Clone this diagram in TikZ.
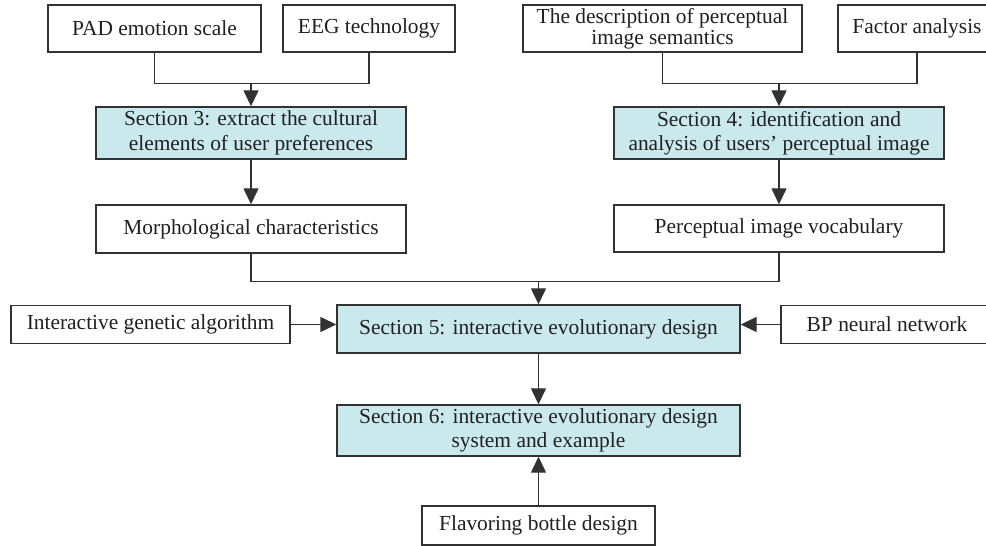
\documentclass[tikz,border=0pt]{standalone}
\usepackage{fontspec}
\setmainfont{Liberation Serif}
\usetikzlibrary{arrows.meta,calc}
\definecolor{secfill}{RGB}{201,233,236}
\definecolor{edge}{RGB}{50,50,50}
\definecolor{txt}{RGB}{35,31,32}
\begin{document}
\begin{tikzpicture}[x=1bp,y=-1bp,
  every node/.style={font=\fontsize{21.5}{24.5}\selectfont, text=txt},
  box/.style={draw=edge, line width=1.4bp, fill=white, inner sep=0pt, align=center},
  secbox/.style={box, fill=secfill},
  conn/.style={draw=edge, line width=1.4bp},
  arr/.style={conn, -{Triangle[length=16bp,width=15bp]}}]
\useasboundingbox (0,0) rectangle (986,546);
% top row
\node[box, minimum width=213bp, minimum height=47bp] (pad) at (154.5,28.5) {PAD emotion scale};
\node[box, minimum width=172bp, minimum height=47bp] (eeg) at (369,28.5) {EEG technology};
\node[box, minimum width=279bp, minimum height=47bp] (desc) at (662.5,28.5) {The description of perceptual\\[-3.5bp]image semantics};
\node[box, minimum width=158bp, minimum height=47bp] (fac) at (917,28.5) {Factor analysis};
% sections 3 and 4
\node[secbox, minimum width=310bp, minimum height=52bp] (s3) at (251,133) {Section 3: extract the cultural\\elements of user preferences};
\node[secbox, minimum width=330bp, minimum height=52bp] (s4) at (779,133) {Section 4: identification and\\analysis of users' perceptual image};
% results
\node[box, minimum width=310bp, minimum height=48bp] (morph) at (251,229) {Morphological characteristics};
\node[box, minimum width=330bp, minimum height=47bp] (voc) at (779,228.5) {Perceptual image vocabulary};
% section 5 row
\node[secbox, minimum width=403bp, minimum height=48bp] (s5) at (538.5,329) {Section 5: interactive evolutionary design};
\node[box, minimum width=279bp, minimum height=38bp] (iga) at (150.5,324.5) {Interactive genetic algorithm};
\node[box, minimum width=212bp, minimum height=38bp] (bp) at (887,324.5) {BP neural network};
% section 6
\node[secbox, minimum width=403bp, minimum height=51bp] (s6) at (538.5,430.5) {Section 6: interactive evolutionary design\\system and example};
\node[box, minimum width=233bp, minimum height=39bp] (flav) at (538.5,525.5) {Flavoring bottle design};
% junctions
\coordinate (j1) at ($(s3.north)+(0,-23)$);
\coordinate (j2) at ($(s4.north)+(0,-23)$);
\coordinate (j3) at ($(s5.north)+(0,-23)$);
% connectors
\draw[conn] (pad.south) |- (j1) -| (eeg.south);
\draw[arr] (j1) -- (s3.north);
\draw[conn] (desc.south) |- (j2) -| (fac.south);
\draw[arr] (j2) -- (s4.north);
\draw[arr] (s3.south) -- (morph.north);
\draw[arr] (s4.south) -- (voc.north);
\draw[conn] (morph.south) |- (j3) -| (voc.south);
\draw[arr] (j3) -- (s5.north);
\draw[arr] (iga.east) -- (s5.west |- iga.east);
\draw[arr] (bp.west) -- (s5.east |- bp.west);
\draw[arr] (s5.south) -- (s6.north);
\draw[arr] (flav.north) -- (s6.south);
\end{tikzpicture}
\end{document}
